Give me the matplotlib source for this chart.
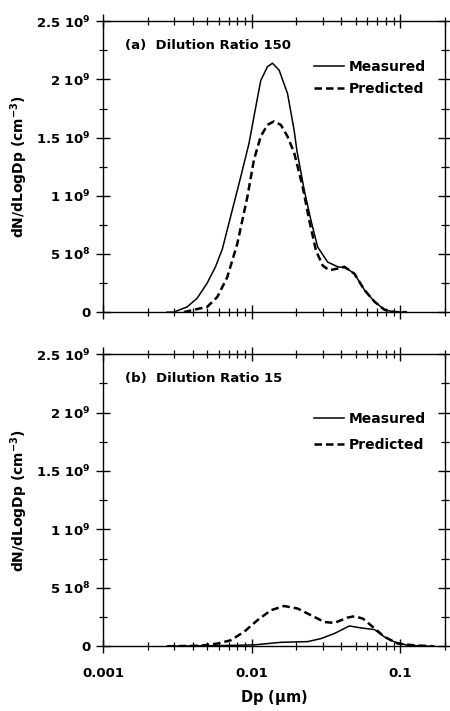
import matplotlib
matplotlib.use('Agg')
import matplotlib.pyplot as plt
from matplotlib.ticker import FixedLocator, LogLocator, NullFormatter

plt.rcParams['font.family'] = 'DejaVu Sans'
plt.rcParams['font.weight'] = 'bold'
plt.rcParams['mathtext.fontset'] = 'custom'
plt.rcParams['mathtext.rm'] = 'DejaVu Sans:bold'
plt.rcParams['mathtext.it'] = 'DejaVu Sans:bold'
plt.rcParams['mathtext.bf'] = 'DejaVu Sans:bold'
plt.rcParams['mathtext.sf'] = 'DejaVu Sans:bold'
plt.rcParams['mathtext.default'] = 'rm'

# (a) dilution ratio 150, values in units of 1e9 cm^-3
dp_meas_a = [0.0027, 0.00299, 0.00368, 0.00430, 0.00502, 0.00571, 0.00634, 0.00721, 0.00843,
             0.00959, 0.01064, 0.0115, 0.01277, 0.0138, 0.0153, 0.01742, 0.01932, 0.02014,
             0.02256, 0.02504, 0.02779, 0.03247, 0.03794, 0.04317, 0.04911, 0.05741,
             0.06703, 0.07833, 0.09152, 0.11]
n_meas_a = [0.0, 0.0, 0.045, 0.12, 0.25, 0.39, 0.54, 0.82, 1.16,
            1.45, 1.76, 1.99, 2.11, 2.14, 2.08, 1.88, 1.56, 1.39,
            1.05, 0.79, 0.56, 0.43, 0.39, 0.38, 0.33, 0.19,
            0.09, 0.02, 0.0, 0.0]
dp_pred_a = [0.0035, 0.00407, 0.00502, 0.00587, 0.00685, 0.00801, 0.00935, 0.01036, 0.0115,
             0.01277, 0.01415, 0.0157, 0.01742, 0.01932, 0.02201, 0.02439, 0.02706, 0.03004,
             0.0333, 0.03794, 0.04204, 0.04911, 0.05741, 0.06703, 0.07833, 0.09152, 0.11]
n_pred_a = [0.0, 0.02, 0.045, 0.13, 0.30, 0.59, 0.99, 1.31, 1.51,
            1.61, 1.64, 1.61, 1.51, 1.37, 1.08, 0.79, 0.53, 0.40,
            0.36, 0.375, 0.39, 0.33, 0.19, 0.09, 0.02, 0.0, 0.0]

# (b) dilution ratio 15
dp_meas_b = [0.0027, 0.0076, 0.01036, 0.0157, 0.02378, 0.02926, 0.03597, 0.04542, 0.05451,
             0.06703, 0.07833, 0.09152, 0.1127, 0.1619]
n_meas_b = [0.0, 0.008, 0.012, 0.034, 0.04, 0.066, 0.109, 0.174, 0.157,
            0.143, 0.08, 0.037, 0.008, 0.0]
dp_pred_b = [0.0027, 0.0045, 0.00587, 0.00721, 0.00887, 0.01093, 0.01344, 0.01653, 0.02036,
             0.02504, 0.0308, 0.03597, 0.04433, 0.04911, 0.05598, 0.0654, 0.07833, 0.09643,
             0.125, 0.17]
n_pred_b = [0.0, 0.005, 0.023, 0.051, 0.123, 0.223, 0.308, 0.345, 0.323,
            0.266, 0.208, 0.20, 0.246, 0.257, 0.237, 0.165, 0.08, 0.023,
            0.008, 0.0]

ytick_vals = [0, 0.5e9, 1e9, 1.5e9, 2e9, 2.5e9]
ytick_labels = ['0', '5 10$^{8}$', '1 10$^{9}$', '1.5 10$^{9}$', '2 10$^{9}$', '2.5 10$^{9}$']
xtick_vals = [0.001, 0.01, 0.1]
xtick_labels = ['0.001', '0.01', '0.1']

fig = plt.figure(figsize=(4.5, 7.11), dpi=100)
ax_a = fig.add_axes([0.229, 0.561, 0.760, 0.409])
ax_b = fig.add_axes([0.229, 0.091, 0.760, 0.411])

panels = [
    (ax_a, dp_meas_a, n_meas_a, dp_pred_a, n_pred_a, '(a)  Dilution Ratio 150', 0.91, 0.55),
    (ax_b, dp_meas_b, n_meas_b, dp_pred_b, n_pred_b, '(b)  Dilution Ratio 15', 0.845, 0.85),
]

for ax, dpm, nm, dpp, npred, title, leg_y, leg_sp in panels:
    ax.plot(dpm, [v * 1e9 for v in nm], color='black', lw=1.1, label='Measured')
    ax.plot(dpp, [v * 1e9 for v in npred], color='black', lw=1.8, ls=(0, (3, 1.6)), label='Predicted')
    ax.set_xscale('log')
    ax.set_xlim(0.001, 0.2)
    ax.set_ylim(0, 2.5e9)
    ax.set_yticks(ytick_vals)
    ax.set_yticklabels(ytick_labels, fontsize=9.5, fontweight='bold')
    ax.yaxis.set_minor_locator(FixedLocator([0.25e9, 0.75e9, 1.25e9, 1.75e9, 2.25e9]))
    ax.xaxis.set_major_locator(FixedLocator(xtick_vals))
    ax.xaxis.set_minor_locator(LogLocator(base=10, subs=range(2, 10)))
    ax.xaxis.set_minor_formatter(NullFormatter())
    ax.tick_params(axis='both', which='major', direction='inout', length=10, width=1,
                   top=True, right=True)
    ax.tick_params(axis='both', which='minor', direction='inout', length=6, width=0.9,
                   top=True, right=True)
    ax.tick_params(axis='y', which='both', pad=4)
    for sp in ax.spines.values():
        sp.set_linewidth(1.0)
    ax.set_ylabel('dN/dLogDp (cm$^{-3}$)', fontsize=10, fontweight='bold', labelpad=4)
    ax.text(0.065, 0.905, title, transform=ax.transAxes, fontsize=9.5, fontweight='bold')
    ax.legend(loc='upper right', bbox_to_anchor=(0.98, leg_y), frameon=False,
              handlelength=2.2, handletextpad=0.3, labelspacing=leg_sp,
              prop={'size': 10, 'weight': 'bold'})

ax_a.set_xticklabels([])
ax_b.set_xticklabels(xtick_labels, fontsize=9.5, fontweight='bold')
ax_b.tick_params(axis='x', which='major', pad=10)
ax_b.set_xlabel('Dp ($\\mu$m)', fontsize=10.5, fontweight='bold', labelpad=6)

fig.savefig('out.png', dpi=100)
